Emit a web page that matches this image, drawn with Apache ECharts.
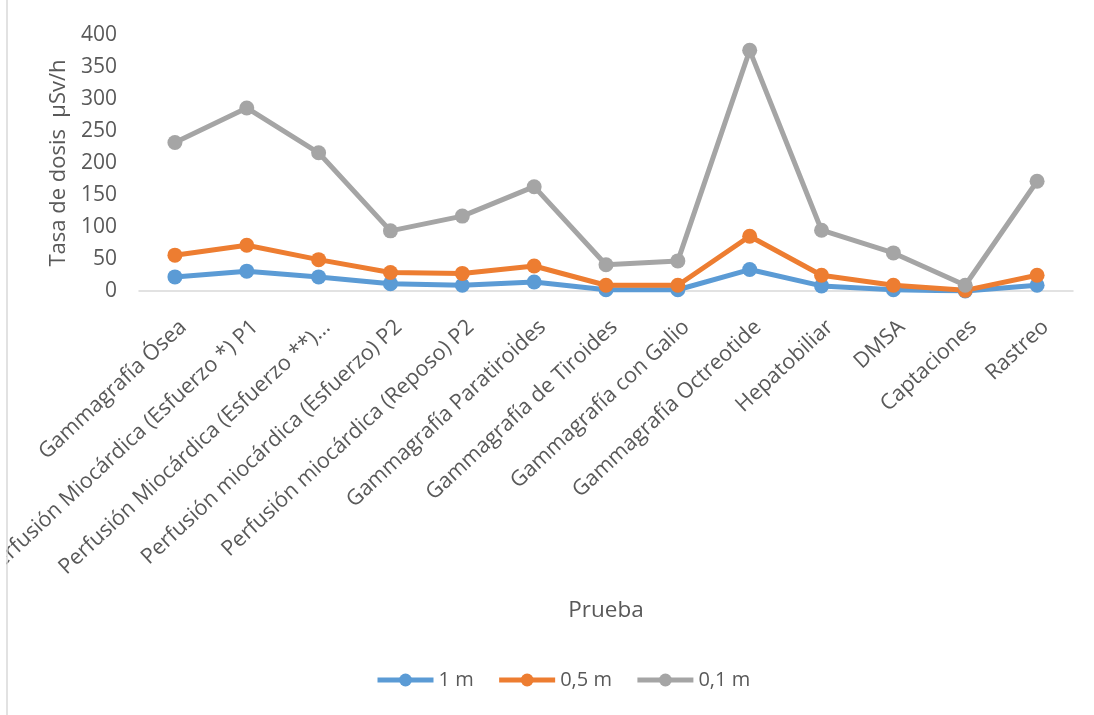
<!DOCTYPE html>
<html>
<head>
<meta charset="utf-8">
<style>
  html, body { margin: 0; padding: 0; background: #fff; }
  #chart { width: 1094px; height: 715px; }
</style>
<script src="https://cdn.jsdelivr.net/npm/echarts@6/dist/echarts.min.js"></script>
</head>
<body>
<div id="chart"></div>
<script>
// Tests on the category axis
const categories = [
  'Gammagrafía Ósea',
  'Perfusión Miocárdica (Esfuerzo *) P1',
  'Perfusión Miocárdica (Esfuerzo **)…',
  'Perfusión miocárdica (Esfuerzo) P2',
  'Perfusión miocárdica (Reposo) P2',
  'Gammagrafía Paratiroides',
  'Gammagrafía de Tiroides',
  'Gammagrafía con Galio',
  'Gammagrafía Octreotide',
  'Hepatobiliar',
  'DMSA',
  'Captaciones',
  'Rastreo'
];

// Dose rate (µSv/h) at each distance
const dose1m  = [22, 31, 22, 11.5, 9, 14, 2, 2, 33.5, 8, 2, 0, 9];
const dose05m = [56, 71.5, 49, 29, 27.5, 39, 9, 9, 85.5, 24.5, 9, 1, 24.5];
const dose01m = [232, 286, 216, 94, 117, 163, 41, 47, 376, 95, 59.5, 9, 171.5];

const seriesNames = ['1 m', '0,5 m', '0,1 m'];
const yTicks = [0, 50, 100, 150, 200, 250, 300, 350, 400];

const FONT = '"Open Sans", sans-serif';
const TEXT = '#595959';

function lineSeries(name, data, color) {
  return {
    name: name,
    type: 'line',
    xAxisIndex: 0,
    yAxisIndex: 0,
    data: data,
    symbol: 'circle',
    symbolSize: 15,
    lineStyle: { color: color, width: 5 },
    itemStyle: { color: color },
    emphasis: { disabled: true }
  };
}

const chart = echarts.init(document.getElementById('chart'));
chart.setOption({
  animation: false,
  backgroundColor: '#fff',
  textStyle: { fontFamily: FONT },
  color: ['#5B9BD5', '#ED7D31', '#A5A5A5'],
  grid: [
    // plot area
    { left: 139, right: 21, top: 35, bottom: 424, containLabel: false, outerBoundsMode: 'none' },
    // band carrying the slanted category labels, nudged right so each label ends past its tick
    { left: 147.4, right: 12.6, top: 35, bottom: 424, containLabel: false, outerBoundsMode: 'none' }
  ],
  legend: {
    top: 665,
    left: 370,
    itemWidth: 56,
    itemHeight: 16,
    itemGap: 23,
    lineStyle: { width: 5 },
    textStyle: { color: TEXT, fontSize: 20, fontFamily: FONT },
    data: seriesNames
  },
  xAxis: [
    {
      gridIndex: 0,
      type: 'category',
      data: categories,
      boundaryGap: true,
      name: 'Prueba',
      nameLocation: 'middle',
      nameGap: 308,
      nameTextStyle: { color: TEXT, fontSize: 22.5, fontFamily: FONT },
      axisLine: { lineStyle: { color: '#D9D9D9', width: 1.5 } },
      axisTick: { show: false },
      axisLabel: { show: false }
    },
    {
      gridIndex: 1,
      type: 'category',
      data: categories,
      boundaryGap: true,
      axisLine: { show: false },
      axisTick: { show: false },
      axisLabel: {
        interval: 0,
        rotate: 43,
        margin: 33,
        color: TEXT,
        fontSize: 21.5,
        fontFamily: FONT
      }
    }
  ],
  yAxis: [
    {
      gridIndex: 0,
      type: 'value',
      min: yTicks[0],
      max: yTicks[yTicks.length - 1],
      interval: 50,
      name: 'Tasa de dosis  µSv/h',
      nameLocation: 'middle',
      nameGap: 66,
      nameTextStyle: { color: TEXT, fontSize: 22, fontFamily: FONT },
      axisLine: { show: false },
      axisTick: { show: false },
      splitLine: { show: false },
      axisLabel: { margin: 22, color: TEXT, fontSize: 21, fontFamily: FONT }
    },
    {
      gridIndex: 1,
      type: 'value',
      show: false,
      min: yTicks[0],
      max: yTicks[yTicks.length - 1]
    }
  ],
  graphic: [
    { type: 'rect', z: 100, shape: { x: 0, y: 0, width: 6, height: 715 }, style: { fill: '#fff' } },
    { type: 'line', z: 100, shape: { x1: 7, y1: 0, x2: 7, y2: 715 }, style: { stroke: '#D9D9D9', lineWidth: 1.5 } }
  ],
  series: [
    lineSeries(seriesNames[0], dose1m, '#5B9BD5'),
    lineSeries(seriesNames[1], dose05m, '#ED7D31'),
    lineSeries(seriesNames[2], dose01m, '#A5A5A5')
  ]
});
</script>
</body>
</html>
